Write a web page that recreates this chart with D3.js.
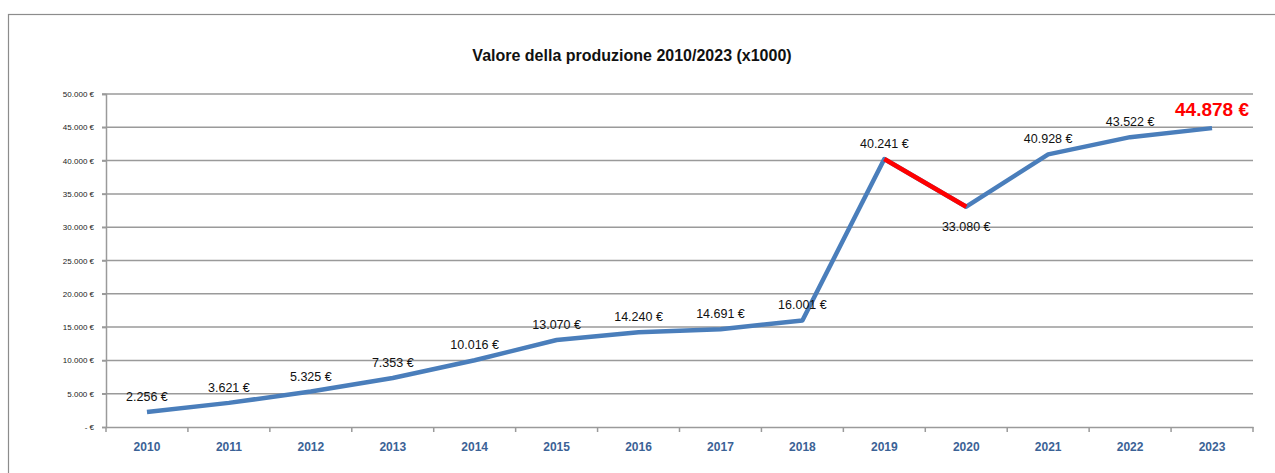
<!DOCTYPE html>
<html>
<head>
<meta charset="utf-8">
<script src="https://cdn.jsdelivr.net/npm/d3@7"></script>
<style>
  body { margin: 0; background: #fff; }
  svg { display: block; }
  .ylab { font-family: "Liberation Sans Narrow", "Liberation Sans", sans-serif; font-size: 8px; fill: #222; }
  .xlab { font-family: "Liberation Sans Narrow", "Liberation Sans", sans-serif; font-size: 12px; font-weight: bold; fill: #3b6296; }
  .dlab { font-family: "Liberation Sans Narrow", "Liberation Sans", sans-serif; font-size: 12.5px; fill: #111; }
</style>
</head>
<body>
<svg id="svg_elem"></svg>
<script>
//define constants
const svgWidth = 1275;
const svgHeight = 473;
const margin = {top: 94, right: 22, bottom: 46, left: 106};

//chart data
const years = ['2010', '2011', '2012', '2013', '2014', '2015', '2016', '2017', '2018', '2019', '2020', '2021', '2022', '2023'];
const values = [2256, 3621, 5325, 7353, 10016, 13070, 14240, 14691, 16001, 40241, 33080, 40928, 43522, 44878];
const yTicks = [0, 5000, 10000, 15000, 20000, 25000, 30000, 35000, 40000, 45000, 50000];
const titleText = 'Valore della produzione 2010/2023 (x1000)';

const data = years.map((y, i) => ({year: y, value: values[i]}));

//italian number format
const itFmt = d3.formatLocale({decimal: ',', thousands: '.', grouping: [3], currency: ['', ' €']});
const fmt = d => itFmt.format(',')(d) + ' €';

const svg = d3.select('#svg_elem')
	.attr('width', svgWidth)
	.attr('height', svgHeight);

//outer frame
svg.append('rect')
	.attr('x', 8.5).attr('y', 14.5)
	.attr('width', svgWidth + 10).attr('height', svgHeight + 10)
	.attr('fill', 'none')
	.attr('stroke', '#8c8c8c')
	.attr('stroke-width', 1.2);

const innerW = svgWidth - margin.left - margin.right;
const innerH = svgHeight - margin.top - margin.bottom;

const x = d3.scaleBand()
	.domain(years)
	.range([0, innerW]);

const y = d3.scaleLinear()
	.domain([0, 50000])
	.range([innerH, 0]);

const g = svg.append('g')
	.attr('transform', `translate(${margin.left}, ${margin.top})`);

//gridlines
g.selectAll('.grid')
	.data(yTicks.filter(d => d > 0))
	.enter()
	.append('line')
		.attr('x1', -4).attr('x2', innerW)
		.attr('y1', d => y(d)).attr('y2', d => y(d))
		.attr('stroke', '#9a9a9a')
		.attr('stroke-width', 1.5);

//y axis
const yAxis = g.append('g')
	.call(d3.axisLeft(y).tickValues(yTicks).tickSize(4).tickPadding(8)
		.tickFormat(d => d === 0 ? '-  €' : fmt(d)));
yAxis.select('.domain').attr('stroke', '#9a9a9a').attr('stroke-width', 1.5);
yAxis.selectAll('.tick line').attr('stroke', '#9a9a9a').attr('stroke-width', 1.5);
yAxis.selectAll('.tick text').attr('class', 'ylab').attr('fill', null);

//x axis
const xAxis = g.append('g')
	.attr('transform', `translate(0, ${innerH})`)
	.call(d3.axisBottom(x).tickSize(0).tickPadding(15));
xAxis.select('.domain').attr('stroke', '#9a9a9a').attr('stroke-width', 1.5);
xAxis.selectAll('.tick text').attr('class', 'xlab').attr('fill', null);

//category boundary ticks
g.append('g').selectAll('line')
	.data(years.concat(['end']))
	.enter()
	.append('line')
		.attr('x1', (d, i) => i * x.step()).attr('x2', (d, i) => i * x.step())
		.attr('y1', innerH).attr('y2', innerH + 5)
		.attr('stroke', '#9a9a9a')
		.attr('stroke-width', 1.5);

const cx = d => x(d.year) + x.bandwidth() / 2;

//line path
const line = d3.line()
	.x(cx)
	.y(d => y(d.value));

g.append('path')
	.datum(data)
	.attr('d', line)
	.attr('fill', 'none')
	.attr('stroke', '#4a7ebb')
	.attr('stroke-width', 4.5)
	.attr('stroke-linejoin', 'round');

//red drop segment 2019-2020
g.append('path')
	.datum(data.filter(d => d.year === '2019' || d.year === '2020'))
	.attr('d', line)
	.attr('fill', 'none')
	.attr('stroke', '#ff0000')
	.attr('stroke-width', 4.5);

//data labels
g.selectAll('.dlab')
	.data(data.filter(d => d.year !== '2023'))
	.enter()
	.append('text')
		.attr('class', 'dlab')
		.attr('x', cx)
		.attr('y', d => d.year === '2020' ? y(d.value) + 24 : y(d.value) - 11)
		.attr('text-anchor', 'middle')
		.text(d => fmt(d.value));

//highlighted last value
const last = data[data.length - 1];
g.append('text')
	.attr('x', cx(last))
	.attr('y', y(last.value) - 12)
	.attr('text-anchor', 'middle')
	.style('font-family', '"Liberation Sans Narrow", "Liberation Sans", sans-serif')
	.style('font-size', '19px')
	.style('font-weight', 'bold')
	.attr('fill', '#ff0000')
	.text(fmt(last.value));

//title
svg.append('text')
	.attr('x', 632)
	.attr('y', 61)
	.attr('text-anchor', 'middle')
	.style('font-family', '"Liberation Sans Narrow", "Liberation Sans", sans-serif')
	.style('font-size', '16px')
	.style('font-weight', 'bold')
	.attr('fill', '#111')
	.text(titleText);
</script>
</body>
</html>
